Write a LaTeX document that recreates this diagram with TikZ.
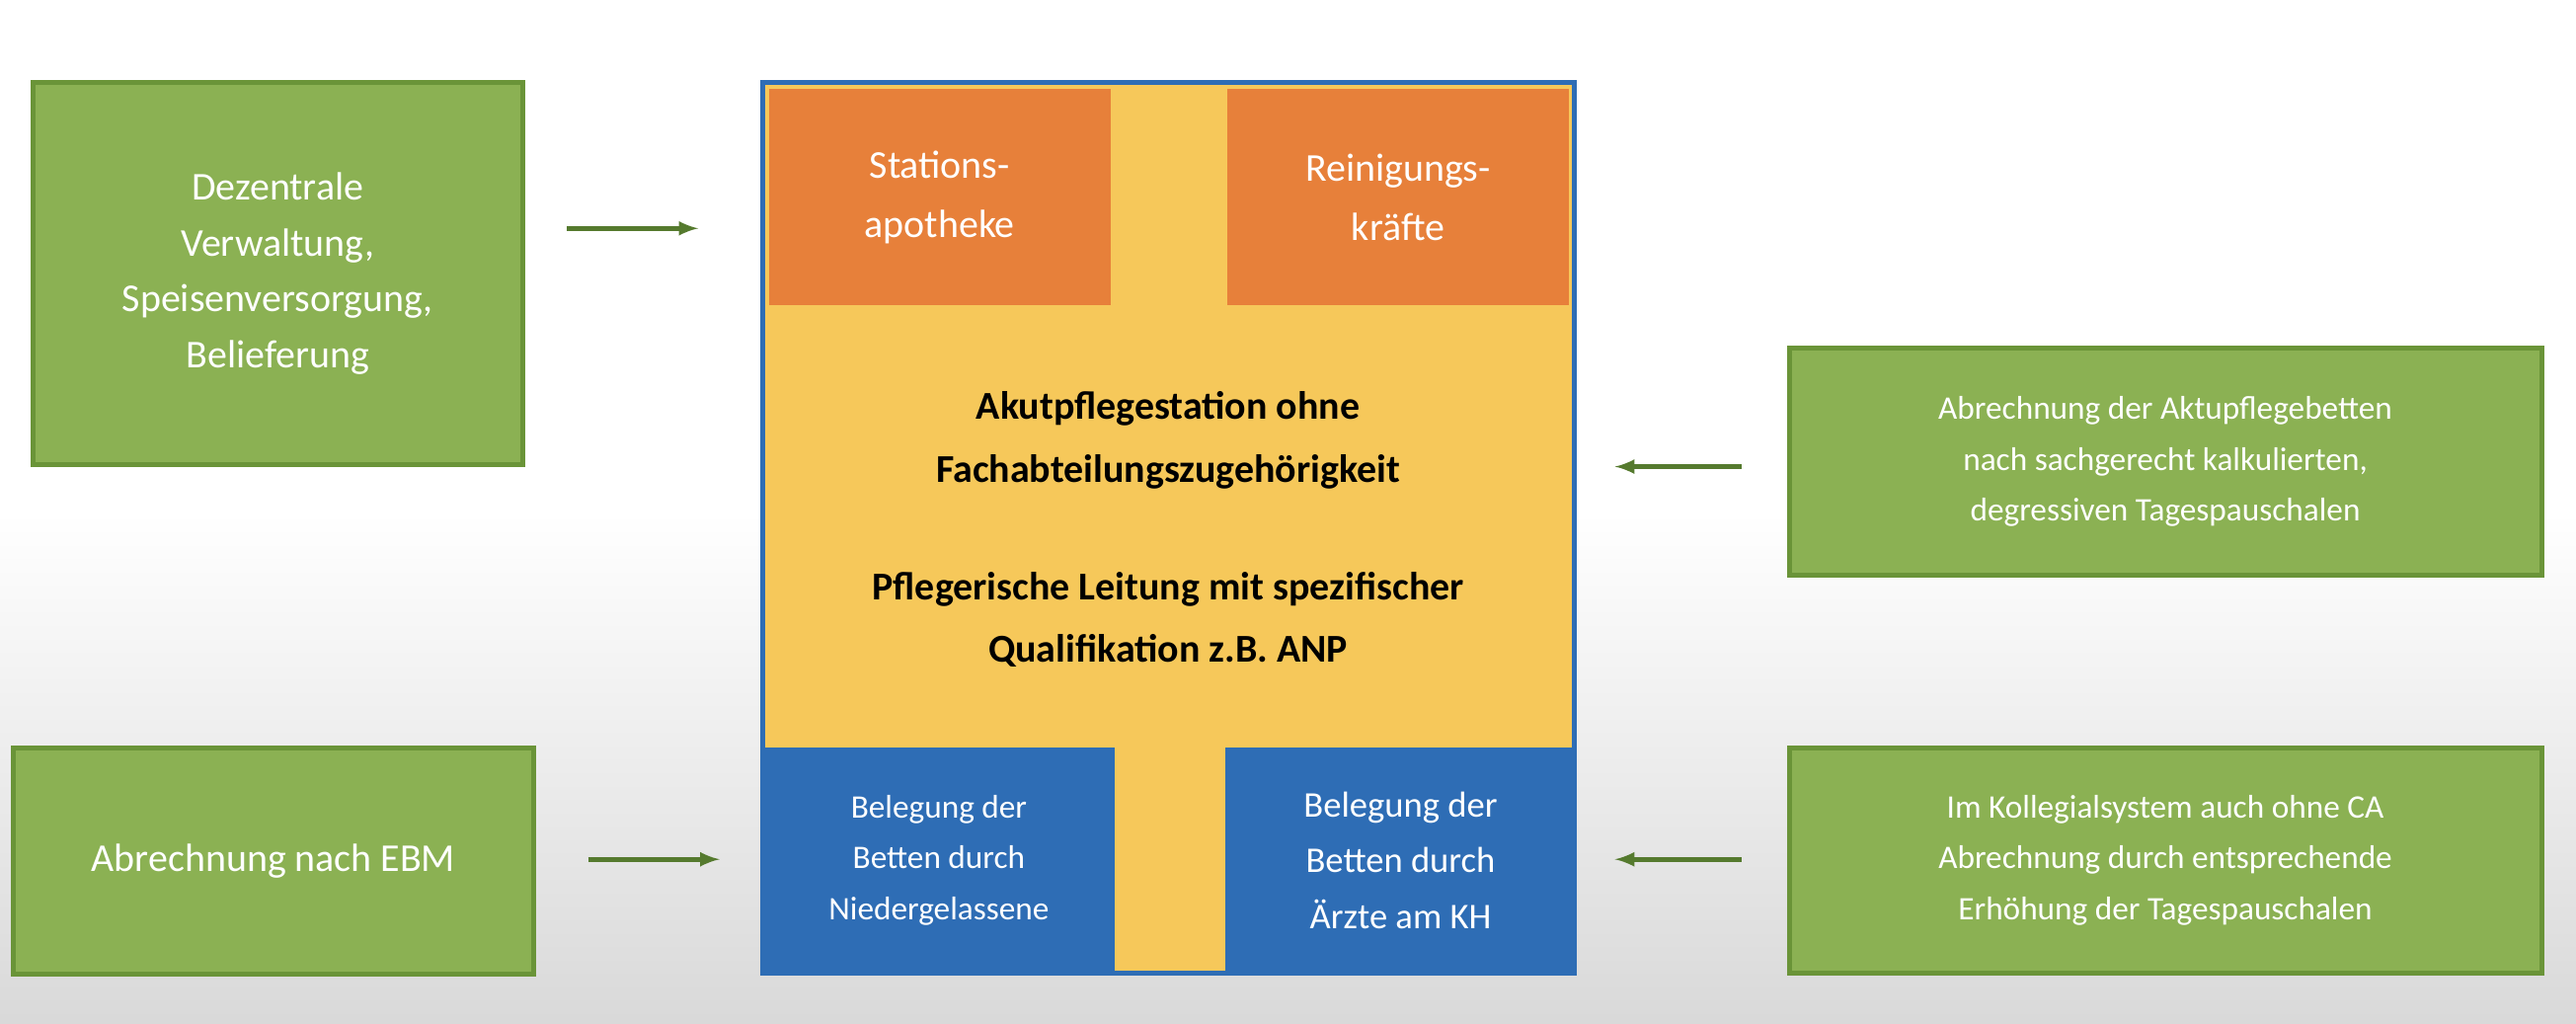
\documentclass[tikz,border=0pt]{standalone}
\usepackage{fontspec}
\setmainfont{Carlito}
\usetikzlibrary{positioning}
\definecolor{gruen}{HTML}{8BB153}
\definecolor{gruenrand}{HTML}{6A9438}
\definecolor{pfeil}{HTML}{557A2E}
\definecolor{orange}{HTML}{E7803A}
\definecolor{blau}{HTML}{2E6DB5}
\definecolor{gelb}{HTML}{F6C85A}

\begin{document}
\begin{tikzpicture}
	[x=1pt, y=-1pt,
		greenbox/.style={rectangle, draw=gruenrand, fill=gruen, line width=3pt, text=white, align=center, font=\fontsize{24}{34}\selectfont},
		orangebox/.style={rectangle, fill=orange, text=white, align=center, minimum width=208pt, minimum height=132pt, font=\fontsize{24}{36}\selectfont},
		bluebox/.style={rectangle, fill=blau, text=white, align=center, minimum width=214pt, minimum height=137pt, font=\fontsize{20}{31}\selectfont},
		arrowline/.style={draw=pfeil, line width=3pt, -latex},
	]

	\shade[top color=white, bottom color=black!15, middle color=white, shading angle=0] (0,0) rectangle (1568,623);
	\useasboundingbox (0,0) rectangle (1568,623);

	% central station
	\node[rectangle, draw=blau, fill=gelb, line width=3pt, minimum width=494pt, minimum height=542pt] (station) at (711,321) {};
	\node[orangebox] (apotheke) at (572,120) {Stations-\\apotheke};
	\node[orangebox] (reinigung) at (851,120) {Reinigungs-\\kräfte};
	\node[bluebox] (niedergelassene) at (571.5,523.5) {Belegung der\\Betten durch\\Niedergelassene};
	\node[bluebox, minimum width=213pt, font=\fontsize{22}{34}\selectfont] (aerzte) at (852.5,523.5) {Belegung der\\Betten durch\\Ärzte am KH};
	\node[align=center, font=\bfseries\fontsize{24}{38}\selectfont] (akut) at (711,268) {Akutpflegestation ohne\\Fachabteilungszugehörigkeit};
	\node[align=center, font=\bfseries\fontsize{24}{38}\selectfont] (leitung) at (711,377) {Pflegerische Leitung mit spezifischer\\Qualifikation z.B. ANP};

	% side boxes
	\node[greenbox, minimum width=298pt, minimum height=233pt] (verwaltung) at (169,166.5) {Dezentrale\\Verwaltung,\\Speisenversorgung,\\Belieferung};
	\node[greenbox, minimum width=317pt, minimum height=138pt] (ebm) at (166.5,524) {Abrechnung nach EBM};
	\node[greenbox, minimum width=458pt, minimum height=138pt, font=\fontsize{20}{31}\selectfont] (pauschalen) at (1318,281) {Abrechnung der Aktupflegebetten\\nach sachgerecht kalkulierten,\\degressiven Tagespauschalen};
	\node[greenbox, minimum width=458pt, minimum height=137pt, font=\fontsize{20}{31}\selectfont] (kollegial) at (1318,523.5) {Im Kollegialsystem auch ohne CA\\Abrechnung durch entsprechende\\Erhöhung der Tagespauschalen};

	\coordinate (s1) at (345,139);
	\coordinate (a1) at (425,139);
	\coordinate (s2) at (358,523);
	\coordinate (a2) at (438,523);
	\coordinate (s3) at (1060,284);
	\coordinate (a3) at (983,284);
	\coordinate (s4) at (1060,523);
	\coordinate (a4) at (983,523);
	\draw[arrowline] (s1) -- (a1);
	\draw[arrowline] (s2) -- (a2);
	\draw[arrowline] (s3) -- (a3);
	\draw[arrowline] (s4) -- (a4);

\end{tikzpicture}
\end{document}
